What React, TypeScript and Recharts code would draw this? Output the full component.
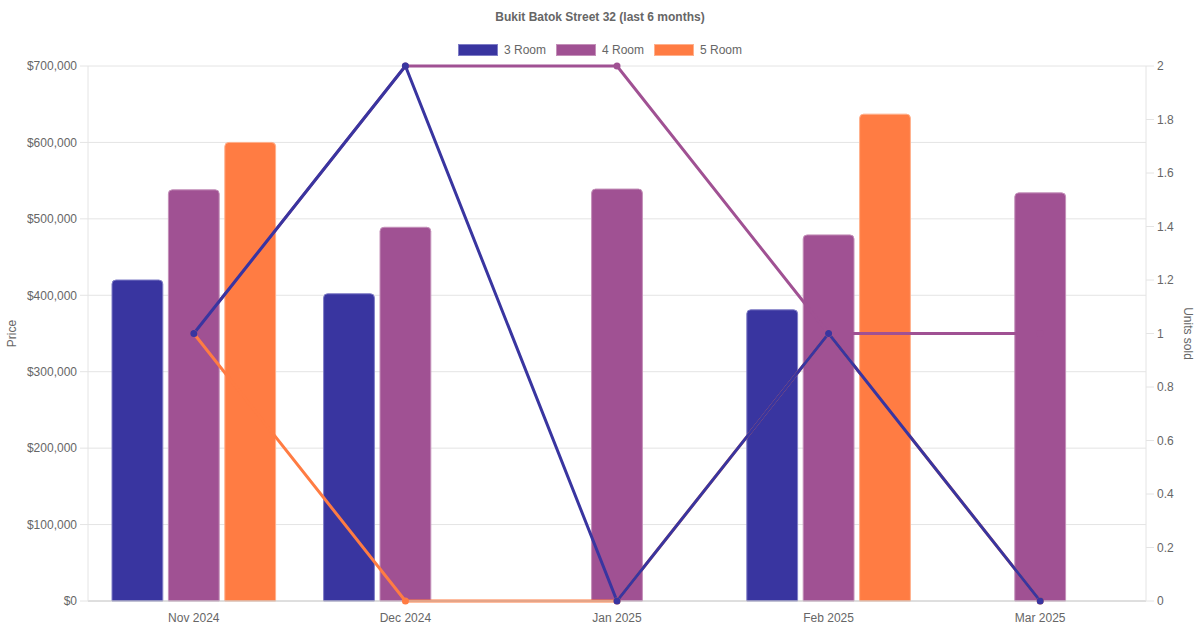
import React from 'react';
import {
  ComposedChart,
  Bar,
  Line,
  XAxis,
  YAxis,
  CartesianGrid,
  Legend,
} from 'recharts';

const months = ['Nov 2024', 'Dec 2024', 'Jan 2025', 'Feb 2025', 'Mar 2025'];
const price3Room = [420000, 402000, null, 381000, null];
const price4Room = [538000, 489000, 539000, 479000, 534000];
const price5Room = [600000, null, null, 637000, null];
const units3Room = [1, 2, 0, 1, 0];
const units4Room = [1, 2, 2, 1, 1];
const units5Room = [1, 0, 0, 1, 0];
const priceTicks = [0, 100000, 200000, 300000, 400000, 500000, 600000, 700000];
const unitTicks = [0, 0.2, 0.4, 0.6, 0.8, 1, 1.2, 1.4, 1.6, 1.8, 2];

const seriesNames = ['3 Room', '4 Room', '5 Room'];
const COLORS = ['#3935A0', '#A05193', '#FF7C43'];
const BORDERS = ['#7f7dc6', '#c490b9', '#ffb08c'];
const FONT = '"Liberation Sans", Arial, Helvetica, sans-serif';
const TEXT = '#666666';
const GRID = '#e4e4e4';

const data = months.map((m, i) => ({
  month: m,
  p3: price3Room[i],
  p4: price4Room[i],
  p5: price5Room[i],
  u3: units3Room[i],
  u4: units4Room[i],
  u5: units5Room[i],
}));

const fmtPrice = (v: number) => '$' + v.toLocaleString('en-US');

const renderHeader = () => (
  <div style={{ position: 'relative', width: 1200, height: 66, fontFamily: FONT, color: TEXT }}>
    <div
      style={{
        position: 'absolute',
        top: 9,
        left: 0,
        width: '100%',
        textAlign: 'center',
        fontWeight: 'bold',
        fontSize: 12,
        lineHeight: '16px',
      }}
    >
      Bukit Batok Street 32 (last 6 months)
    </div>
    <div
      style={{
        position: 'absolute',
        top: 42,
        left: 0,
        width: '100%',
        display: 'flex',
        justifyContent: 'center',
        alignItems: 'center',
        fontSize: 12,
        lineHeight: '16px',
      }}
    >
      {seriesNames.map((n, i) => (
        <div key={n} style={{ display: 'flex', alignItems: 'center', marginRight: i < 2 ? 10 : 0 }}>
          <span
            style={{
              display: 'inline-block',
              width: 40,
              height: 12,
              boxSizing: 'border-box',
              background: COLORS[i],
              border: `1px solid ${BORDERS[i]}`,
              marginRight: 6,
            }}
          />
          <span>{n}</span>
        </div>
      ))}
    </div>
  </div>
);

const LeftLabel = (props: any) => {
  const vb = props.viewBox || {};
  const x = (vb.x ?? 0) + 11;
  const y = (vb.y ?? 0) + (vb.height ?? 0) / 2;
  return (
    <text
      x={x}
      y={y}
      transform={`rotate(-90 ${x} ${y})`}
      textAnchor="middle"
      dominantBaseline="central"
      fill={TEXT}
      fontSize={12}
      fontFamily={FONT}
    >
      Price
    </text>
  );
};

const RightLabel = (props: any) => {
  const vb = props.viewBox || {};
  const x = (vb.x ?? 0) + (vb.width ?? 0) - 12;
  const y = (vb.y ?? 0) + (vb.height ?? 0) / 2;
  return (
    <text
      x={x}
      y={y}
      transform={`rotate(90 ${x} ${y})`}
      textAnchor="middle"
      dominantBaseline="central"
      fill={TEXT}
      fontSize={12}
      fontFamily={FONT}
    >
      Units sold
    </text>
  );
};

export default function App() {
  const tickStyle = { fill: TEXT, fontSize: 12, fontFamily: FONT };
  return (
    <div style={{ position: 'absolute', left: 0, top: 0, width: 1200, height: 630, background: '#fff', fontFamily: FONT }}>
      <ComposedChart
        width={1200}
        height={630}
        data={data}
        margin={{ top: 0, right: 0, bottom: 0, left: 1 }}
        barSize={50.8}
        barGap={5.6}
      >
        <Legend
          verticalAlign="top"
          align="center"
          content={renderHeader}
          wrapperStyle={{ top: 0, left: 0, width: 1200, height: 66 }}
        />
        <CartesianGrid yAxisId="left" vertical={false} stroke={GRID} strokeWidth={1} />
        <XAxis
          dataKey="month"
          height={29}
          axisLine={{ stroke: '#cccccc' }}
          tickLine={false}
          tickSize={6}
          tickMargin={6}
          tick={tickStyle}
          interval={0}
        />
        <YAxis
          yAxisId="left"
          orientation="left"
          width={87}
          domain={[0, 700000]}
          ticks={priceTicks}
          tickFormatter={fmtPrice}
          axisLine={{ stroke: GRID }}
          tickLine={{ stroke: GRID }}
          tickSize={8}
          tickMargin={3}
          tick={tickStyle}
          interval={0}
          label={<LeftLabel />}
        />
        <YAxis
          yAxisId="right"
          orientation="right"
          width={54}
          domain={[0, 2]}
          ticks={unitTicks}
          axisLine={{ stroke: GRID }}
          tickLine={{ stroke: GRID }}
          tickSize={8}
          tickMargin={3}
          tick={tickStyle}
          interval={0}
          label={<RightLabel />}
        />
        <Bar yAxisId="left" dataKey="p3" name="3 Room" fill={COLORS[0]} stroke={BORDERS[0]} strokeWidth={1} radius={[4, 4, 0, 0]} isAnimationActive={false} />
        <Bar yAxisId="left" dataKey="p4" name="4 Room" fill={COLORS[1]} stroke={BORDERS[1]} strokeWidth={1} radius={[4, 4, 0, 0]} isAnimationActive={false} />
        <Bar yAxisId="left" dataKey="p5" name="5 Room" fill={COLORS[2]} stroke={BORDERS[2]} strokeWidth={1} radius={[4, 4, 0, 0]} isAnimationActive={false} />
        <Line yAxisId="right" type="linear" dataKey="u5" name="5 Room units" stroke={COLORS[2]} strokeWidth={3} dot={{ r: 3.5, fill: COLORS[2], stroke: COLORS[2], strokeWidth: 0 }} activeDot={false} isAnimationActive={false} />
        <Line yAxisId="right" type="linear" dataKey="u4" name="4 Room units" stroke={COLORS[1]} strokeWidth={3} dot={{ r: 3.5, fill: COLORS[1], stroke: COLORS[1], strokeWidth: 0 }} activeDot={false} isAnimationActive={false} />
        <Line yAxisId="right" type="linear" dataKey="u3" name="3 Room units" stroke={COLORS[0]} strokeWidth={3} dot={{ r: 3.5, fill: COLORS[0], stroke: COLORS[0], strokeWidth: 0 }} activeDot={false} isAnimationActive={false} />
      </ComposedChart>
    </div>
  );
}
